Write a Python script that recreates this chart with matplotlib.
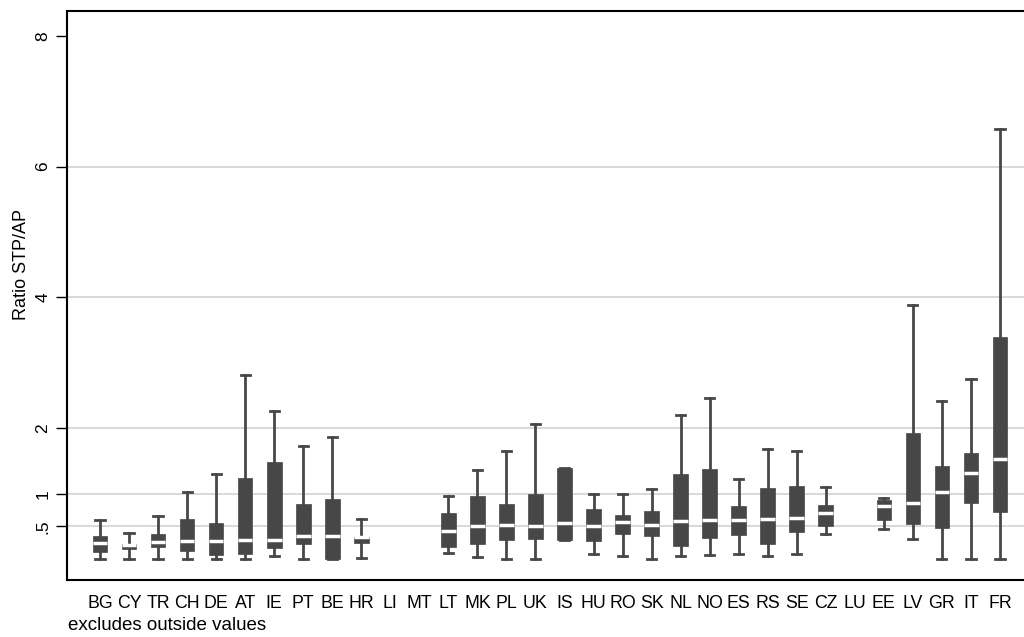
import matplotlib.pyplot as plt

plt.rcParams['font.family'] = ['Liberation Sans', 'DejaVu Sans']

# Categories (countries), in display order
countries = ['BG', 'CY', 'TR', 'CH', 'DE', 'AT', 'IE', 'PT', 'BE', 'HR', 'LI', 'MT',
             'LT', 'MK', 'PL', 'UK', 'IS', 'HU', 'RO', 'SK', 'NL', 'NO', 'ES', 'RS',
             'SE', 'CZ', 'LU', 'EE', 'LV', 'GR', 'IT', 'FR']

# box statistics (None = no data)
whisk_lo = [0.00, 0.00, 0.00, 0.00, 0.00, 0.00, 0.05, 0.00, 0.00, 0.02, None, None,
            0.09, 0.03, 0.00, 0.00, 0.29, 0.07, 0.05, 0.00, 0.04, 0.06, 0.08, 0.05,
            0.08, 0.38, None, 0.46, 0.31, 0.00, 0.00, 0.00]
q1 = [0.11, 0.15, 0.19, 0.13, 0.06, 0.08, 0.17, 0.23, 0.00, 0.24, None, None,
      0.18, 0.23, 0.29, 0.30, 0.29, 0.27, 0.39, 0.36, 0.20, 0.32, 0.37, 0.23,
      0.41, 0.51, None, 0.60, 0.53, 0.47, 0.86, 0.72]
median = [0.25, 0.22, 0.26, 0.27, 0.27, 0.29, 0.29, 0.35, 0.35, 0.33, None, None,
          0.43, 0.50, 0.52, 0.50, 0.55, 0.50, 0.56, 0.52, 0.58, 0.60, 0.60, 0.61,
          0.63, 0.70, None, 0.81, 0.85, 1.02, 1.31, 1.53]
q3 = [0.35, 0.23, 0.38, 0.61, 0.55, 1.24, 1.48, 0.84, 0.92, 0.34, None, None,
      0.70, 0.96, 0.84, 1.00, 1.39, 0.76, 0.68, 0.73, 1.30, 1.37, 0.81, 1.08,
      1.11, 0.82, None, 0.91, 1.92, 1.42, 1.62, 3.39]
whisk_hi = [0.60, 0.40, 0.66, 1.02, 1.30, 2.81, 2.26, 1.73, 1.86, 0.61, None, None,
            0.96, 1.36, 1.65, 2.06, 1.39, 1.00, 1.00, 1.07, 2.20, 2.46, 1.22, 1.68,
            1.65, 1.10, None, 0.94, 3.89, 2.41, 2.75, 6.58]

y_ticks = [0.5, 1, 2, 4, 6, 8]
y_ticklabels = ['.5', '1', '2', '4', '6', '8']

stats = []
positions = []
for i, c in enumerate(countries):
    if median[i] is None:
        continue
    stats.append({'whislo': whisk_lo[i], 'q1': q1[i], 'med': median[i],
                  'q3': q3[i], 'whishi': whisk_hi[i], 'fliers': [], 'label': c})
    positions.append(i)

fig = plt.figure(figsize=(10.24, 6.37), dpi=100)
ax = fig.add_axes([67 / 1024, 1 - 580 / 637, 1 - 67 / 1024, (580 - 11) / 637])

dark = '#474747'
ax.bxp(stats, positions=positions, widths=0.5, patch_artist=True,
       showfliers=False,
       boxprops=dict(facecolor=dark, edgecolor=dark, linewidth=0.5),
       medianprops=dict(color='white', linewidth=2.5, solid_capstyle='butt'),
       whiskerprops=dict(color=dark, linewidth=2),
       capprops=dict(color=dark, linewidth=2),
       capwidths=0.32, zorder=3)

ax.set_xlim(-1.14, 31.83)
ax.set_ylim(-0.32, 8.38)
ax.set_xticks(range(len(countries)))
ax.set_xticklabels(countries, fontsize=12.8)
ax.tick_params(axis='x', length=0, pad=11)

ax.set_yticks(y_ticks)
ax.set_yticklabels(y_ticklabels, rotation=90, va='center', fontsize=12.5)
ax.tick_params(axis='y', length=8, width=1, pad=4)
for yv in y_ticks[:-1]:
    ax.axhline(yv, color='#d6d6d6', linewidth=1.3, zorder=1)

ax.set_ylabel('Ratio STP/AP', fontsize=13)
ax.yaxis.set_label_coords(-0.039, 0.555)

for s in ['left', 'top', 'bottom']:
    ax.spines[s].set_linewidth(1.5)
ax.spines['right'].set_visible(False)

fig.text(68 / 1024, 1 - 626 / 637, 'excludes outside values', fontsize=13.5,
         va='center', ha='left')

plt.savefig('out.png', dpi=100)
